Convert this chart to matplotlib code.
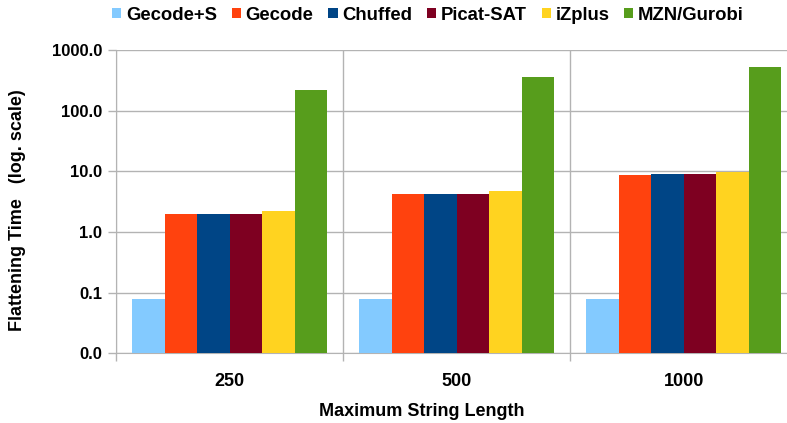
import matplotlib
matplotlib.use("Agg")
import matplotlib.pyplot as plt
import numpy as np
from matplotlib.patches import Patch

groups = ["250", "500", "1000"]
solvers = ["Gecode+S", "Gecode", "Chuffed", "Picat-SAT", "iZplus", "MZN/Gurobi"]
colors = ["#83CAFF", "#FF420E", "#004586", "#7E0021", "#FFD320", "#579D1C"]
values = {
    "Gecode+S":   [0.08, 0.08, 0.08],
    "Gecode":     [1.95, 4.18, 8.8],
    "Chuffed":    [1.95, 4.18, 9.15],
    "Picat-SAT":  [1.95, 4.18, 9.15],
    "iZplus":     [2.19, 4.65, 9.9],
    "MZN/Gurobi": [222, 354, 515],
}
yticks = [0.01, 0.1, 1, 10, 100, 1000]

plt.rcParams['font.family'] = ['Liberation Sans', 'DejaVu Sans']
plt.rcParams['font.weight'] = 'bold'

fig = plt.figure(figsize=(7.87, 4.23), dpi=100)
ax = fig.add_axes([116/787, 1-353.3/423, (797.5-116)/787, (353.3-50)/423])

n = len(solvers)
bw = 0.143
x = np.arange(len(groups))
for i, s in enumerate(solvers):
    ax.bar(x + (i - (n-1)/2) * bw, values[s], width=bw, color=colors[i],
           label=s, zorder=3)

ax.set_yscale('log')
ax.set_ylim(0.01, 1000)
ax.set_xlim(-0.5, len(groups) - 0.5)
ax.set_yticks(yticks)
ax.set_yticklabels(["%.1f" % v for v in yticks])
ax.yaxis.set_minor_locator(matplotlib.ticker.NullLocator())
ax.set_xticks(x)
ax.set_xticklabels(groups)
ax.set_xticks(np.arange(len(groups)+1) - 0.5, minor=True)

gc = "#b3b3b3"
ax.grid(axis='y', which='major', color=gc, lw=1.0, zorder=0)
ax.grid(axis='x', which='minor', color=gc, lw=1.0, zorder=0)
ax.tick_params(axis='x', which='major', length=0, pad=14, labelsize=13)
ax.tick_params(axis='x', which='minor', length=6, color=gc, width=1)
ax.tick_params(axis='y', which='major', length=6, color=gc, width=1, pad=4, labelsize=12)
for sp in ['top', 'right']:
    ax.spines[sp].set_visible(False)
for sp in ['left', 'bottom']:
    ax.spines[sp].set_color(gc)

for lbl in ax.get_xticklabels() + ax.get_yticklabels():
    lbl.set_fontweight('bold')

fig.text(422/787, 1-411/423, "Maximum String Length", fontsize=13,
         fontweight='bold', ha='center', va='center')
fig.text(18/787, 1-210/423, "Flattening Time   (log. scale)", fontsize=13,
         fontweight='bold', ha='center', va='center', rotation=90)

handles = [Patch(facecolor=c, edgecolor='none') for c in colors]
fig.legend(handles, solvers, loc='center', bbox_to_anchor=(428/787, 1-15/423),
           ncol=6, frameon=False, handlelength=0.5, handleheight=0.5,
           handletextpad=0.25, columnspacing=0.8,
           prop={'weight': 'bold', 'size': 13.3})

fig.savefig("out.png", dpi=100)
